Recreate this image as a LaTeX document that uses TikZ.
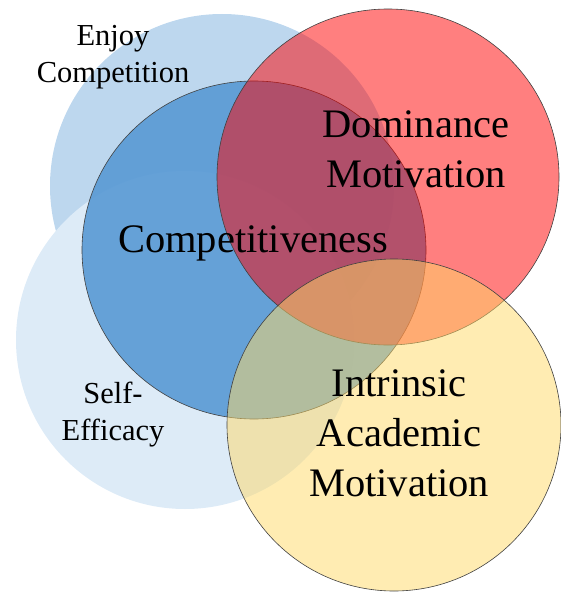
\documentclass[tikz,border=0pt]{standalone}
\usepackage{fontspec}
\setmainfont{Liberation Serif}
\definecolor{enjoyblue}{RGB}{189,215,238}
\definecolor{selfblue}{RGB}{221,235,247}
\definecolor{compblue}{RGB}{91,155,213}
\definecolor{domred}{RGB}{255,0,0}
\definecolor{intyellow}{RGB}{255,217,102}

\begin{document}
\begin{tikzpicture}[x=1pt,y=-1pt,
  rim/.style={draw=black!75,line width=0.6pt},
  bigtext/.style={font=\fontsize{40.5}{50}\selectfont,align=center,inner sep=0pt},
  smalltext/.style={font=\fontsize{30.5}{37}\selectfont,align=center,inner sep=0pt}]
\useasboundingbox (0,0) rectangle (561,594);
% background circles, no outline
\fill[enjoyblue] (222,186) circle [radius=172];
\fill[selfblue] (185,340) circle [radius=169];
% outlined circles on top
\filldraw[rim,fill=compblue,fill opacity=0.92] (254,250) circle [x radius=172,y radius=169];
\filldraw[rim,fill=domred,fill opacity=0.5] (388,177) circle [x radius=171,y radius=168];
\filldraw[rim,fill=intyellow,fill opacity=0.5] (394,425) circle [x radius=167,y radius=166];
% labels
\node[smalltext] (enjoy) at (113,57) {Enjoy\\Competition};
\node[smalltext] (selfeff) at (113,415) {Self-\\Efficacy};
\node[bigtext,anchor=base] (comp) at (253,252) {Competitiveness};
\node[bigtext] (dom) at (416,149) {Dominance\\Motivation};
\node[bigtext] (intr) at (399,433) {Intrinsic\\Academic\\Motivation};
\end{tikzpicture}
\end{document}
